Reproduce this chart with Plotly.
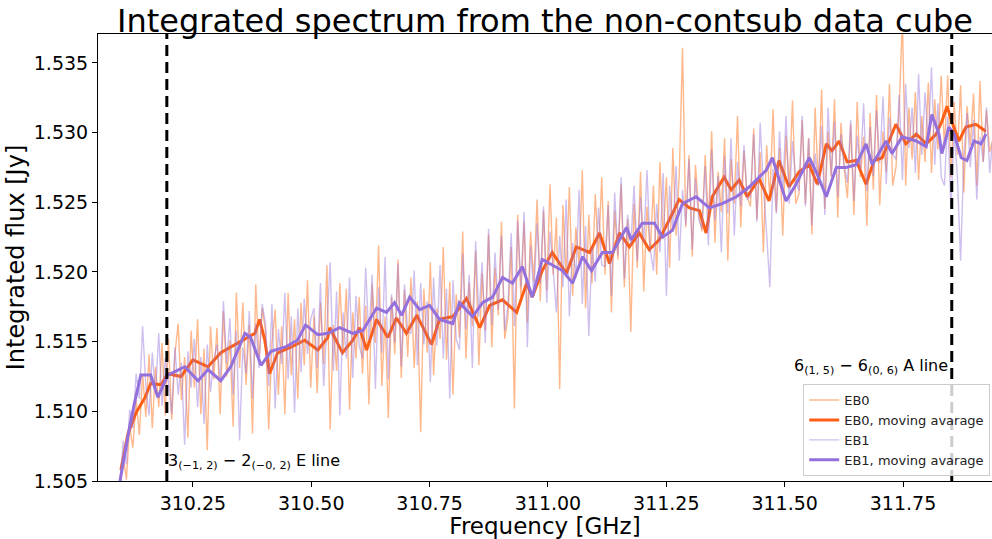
import numpy as np
import plotly.graph_objects as go

# ---------------- data ----------------
f_start, f_end = 310.096, 311.94

eb0_raw = [
    1.5042, 1.5068, 1.5051, 1.5089, 1.5074, 1.5108, 1.5083, 1.5127, 1.5096, 1.5141, 1.5088, 1.5132, 1.5103, 1.5149, 1.5097,
    1.5152, 1.5094, 1.5141, 1.5163, 1.5108, 1.5139, 1.5081, 1.5158, 1.5117, 1.5166, 1.5098, 1.5145, 1.5072, 1.5161, 1.5123,
    1.5160, 1.5098, 1.5172, 1.5125, 1.5151, 1.5089, 1.5185, 1.5131, 1.5178, 1.5119, 1.5162, 1.5084, 1.5191, 1.5136, 1.5174,
    1.5158, 1.5087, 1.5149, 1.5173, 1.5112, 1.5161, 1.5098, 1.5185, 1.5126, 1.5166, 1.5109, 1.5178, 1.5133, 1.5194, 1.5117,
    1.5168, 1.5113, 1.5178, 1.5134, 1.5205, 1.5087, 1.5162, 1.5129, 1.5192, 1.5143, 1.5188, 1.5101, 1.5171, 1.5138, 1.5182,
    1.5127, 1.5176, 1.5105, 1.5191, 1.5149, 1.5219, 1.5118, 1.5168, 1.5095, 1.5182, 1.5141, 1.5209, 1.5124, 1.5187, 1.5139,
    1.5196, 1.5131, 1.5179, 1.5085, 1.5188, 1.5142, 1.5207, 1.5126, 1.5174, 1.5152, 1.5218, 1.5137, 1.5193, 1.5112, 1.5184,
    1.5153, 1.5229, 1.5138, 1.5192, 1.5161, 1.5215, 1.5133, 1.5199, 1.5158, 1.5227, 1.5146, 1.5203, 1.5169, 1.5236, 1.5152,
    1.5168, 1.5218, 1.5102, 1.5241, 1.5182, 1.5236, 1.5164, 1.5229, 1.5193, 1.5252, 1.5179, 1.5244, 1.5187, 1.5263, 1.5198,
    1.5239, 1.5116, 1.5248, 1.5196, 1.5261, 1.5183, 1.5232, 1.5205, 1.5273, 1.5174, 1.5241, 1.5192, 1.5256, 1.5211, 1.5268,
    1.5198, 1.5251, 1.5171, 1.5244, 1.5209, 1.5263, 1.5189, 1.5238, 1.5157, 1.5249, 1.5203, 1.5272, 1.5186, 1.5247, 1.5214,
    1.5262, 1.5198, 1.5279, 1.5224, 1.5268, 1.5203, 1.5289, 1.5226, 1.5271, 1.5361, 1.5232, 1.5284, 1.5211, 1.5277, 1.5243,
    1.5229, 1.5284, 1.5236, 1.5301, 1.5221, 1.5272, 1.5243, 1.5296, 1.5208, 1.5281, 1.5249, 1.5312, 1.5232, 1.5287, 1.5254,
    1.5247, 1.5303, 1.5238, 1.5286, 1.5214, 1.5291, 1.5252, 1.5317, 1.5243, 1.5289, 1.5226, 1.5298, 1.5261, 1.5323, 1.5249,
    1.5256, 1.5309, 1.5249, 1.5296, 1.5227, 1.5318, 1.5262, 1.5331, 1.5245, 1.5301, 1.5268, 1.5324, 1.5239, 1.5307, 1.5274,
    1.5253, 1.5306, 1.5241, 1.5322, 1.5268, 1.5297, 1.5233, 1.5314, 1.5259, 1.5327, 1.5248, 1.5301, 1.5272, 1.5335, 1.5262,
    1.5275, 1.5318, 1.5382, 1.5262, 1.5318, 1.5281, 1.5329, 1.5266, 1.5312, 1.5279, 1.5336, 1.5271, 1.5324, 1.5288, 1.5341,
    1.5289, 1.5341, 1.5268, 1.5322, 1.5284, 1.5334, 1.5257, 1.5319, 1.5291, 1.5328, 1.5262, 1.5337, 1.5279, 1.5316, 1.5286,
    1.5295,
]

eb1_raw = [
    1.5048, 1.5079, 1.5062, 1.5101, 1.5088, 1.5127, 1.5109, 1.5161, 1.5118, 1.5097, 1.5142, 1.5113, 1.5156, 1.5104, 1.5138,
    1.5121, 1.5098, 1.5146, 1.5112, 1.5135, 1.5076, 1.5143, 1.5117, 1.5152, 1.5103, 1.5139, 1.5091, 1.5148, 1.5114, 1.5137,
    1.5148, 1.5121, 1.5179, 1.5134, 1.5167, 1.5112, 1.5158, 1.5079, 1.5146, 1.5127, 1.5172, 1.5109, 1.5163, 1.5131, 1.5177,
    1.5163, 1.5118, 1.5177, 1.5102, 1.5159, 1.5134, 1.5185, 1.5123, 1.5168, 1.5099, 1.5174, 1.5128, 1.5181, 1.5141, 1.5166,
    1.5174, 1.5131, 1.5192, 1.5118, 1.5161, 1.5207, 1.5129, 1.5186, 1.5097, 1.5171, 1.5138, 1.5196, 1.5124, 1.5183, 1.5147,
    1.5138, 1.5203, 1.5151, 1.5198, 1.5116, 1.5189, 1.5142, 1.5211, 1.5123, 1.5184, 1.5149, 1.5206, 1.5132, 1.5191, 1.5157,
    1.5156, 1.5201, 1.5133, 1.5192, 1.5148, 1.5179, 1.5121, 1.5196, 1.5147, 1.5205, 1.5138, 1.5188, 1.5109, 1.5194, 1.5152,
    1.5144, 1.5213, 1.5159, 1.5198, 1.5131, 1.5222, 1.5168, 1.5207, 1.5149, 1.5231, 1.5162, 1.5214, 1.5173, 1.5226, 1.5158,
    1.5176, 1.5228, 1.5161, 1.5237, 1.5189, 1.5243, 1.5146, 1.5219, 1.5183, 1.5235, 1.5192, 1.5247, 1.5178, 1.5229, 1.5201,
    1.5171, 1.5226, 1.5189, 1.5252, 1.5168, 1.5221, 1.5196, 1.5259, 1.5177, 1.5233, 1.5154, 1.5218, 1.5193, 1.5246, 1.5205,
    1.5204, 1.5248, 1.5183, 1.5257, 1.5212, 1.5268, 1.5195, 1.5241, 1.5219, 1.5262, 1.5208, 1.5254, 1.5221, 1.5273, 1.5216,
    1.5201, 1.5249, 1.5214, 1.5271, 1.5183, 1.5262, 1.5229, 1.5276, 1.5208, 1.5259, 1.5234, 1.5281, 1.5216, 1.5267, 1.5238,
    1.5231, 1.5276, 1.5219, 1.5288, 1.5237, 1.5269, 1.5214, 1.5283, 1.5242, 1.5296, 1.5226, 1.5279, 1.5247, 1.5291, 1.5252,
    1.5254, 1.5299, 1.5236, 1.5307, 1.5261, 1.5228, 1.5189, 1.5274, 1.5242, 1.5301, 1.5258, 1.5312, 1.5249, 1.5294, 1.5266,
    1.5258, 1.5312, 1.5247, 1.5296, 1.5233, 1.5285, 1.5262, 1.5305, 1.5241, 1.5318, 1.5269, 1.5308, 1.5254, 1.5299, 1.5276,
    1.5264, 1.5309, 1.5251, 1.5298, 1.5273, 1.5321, 1.5258, 1.5304, 1.5269, 1.5316, 1.5278, 1.5326, 1.5263, 1.5311, 1.5284,
    1.5281, 1.5327, 1.5266, 1.5335, 1.5289, 1.5318, 1.5271, 1.5342, 1.5284, 1.5329, 1.5293, 1.5347, 1.5277, 1.5321, 1.5268,
    1.5262, 1.5311, 1.5246, 1.5301, 1.5269, 1.5208, 1.5283, 1.5314, 1.5275, 1.5309, 1.5252, 1.5297, 1.5279, 1.5318, 1.5271,
    1.5298,
]

eb0_ma_freq = [
    310.098, 310.113, 310.130, 310.149, 310.161, 310.183, 310.197, 310.225, 310.250, 310.282,
    310.309, 310.345, 310.381, 310.391, 310.402, 310.412, 310.429, 310.457, 310.486, 310.514,
    310.535, 310.539, 310.566, 310.588, 310.602, 310.617, 310.638, 310.662, 310.680, 310.701,
    310.723, 310.754, 310.771, 310.799, 310.828, 310.856, 310.877, 310.904, 310.934, 310.955,
    310.967, 310.988, 311.009, 311.039, 311.060, 311.088, 311.109, 311.130, 311.151, 311.172,
    311.193, 311.214, 311.235, 311.263, 311.277, 311.299, 311.320, 311.334, 311.347, 311.372,
    311.387, 311.404, 311.421, 311.446, 311.467, 311.488, 311.509, 311.531, 311.552, 311.569,
    311.588, 311.600, 311.615, 311.632, 311.651, 311.672, 311.689, 311.706, 311.735, 311.756,
    311.778, 311.799, 311.820, 311.832, 311.843, 311.853, 311.868, 311.883, 311.904, 311.925,
]
eb0_ma = [
    1.5058, 1.5084, 1.5099, 1.5110, 1.5120, 1.5119, 1.5127, 1.5125, 1.5137, 1.5132,
    1.5142, 1.5149, 1.5156, 1.5166, 1.5151, 1.5127, 1.5142, 1.5146, 1.5151, 1.5144,
    1.5153, 1.5160, 1.5142, 1.5151, 1.5160, 1.5144, 1.5166, 1.5153, 1.5167, 1.5156,
    1.5169, 1.5148, 1.5166, 1.5168, 1.5181, 1.5160, 1.5176, 1.5180, 1.5171, 1.5192,
    1.5182, 1.5201, 1.5214, 1.5199, 1.5218, 1.5214, 1.5228, 1.5206, 1.5228, 1.5218,
    1.5228, 1.5216, 1.5223, 1.5242, 1.5252, 1.5246, 1.5244, 1.5228, 1.5254, 1.5268,
    1.5259, 1.5266, 1.5254, 1.5267, 1.5251, 1.5280, 1.5261, 1.5272, 1.5277, 1.5263,
    1.5292, 1.5287, 1.5294, 1.5279, 1.5280, 1.5263, 1.5280, 1.5282, 1.5306, 1.5292,
    1.5299, 1.5292, 1.5299, 1.5308, 1.5319, 1.5308, 1.5294, 1.5304, 1.5306, 1.5301,
]

eb1_ma_freq = [
    310.096, 310.107, 310.117, 310.128, 310.140, 310.161, 310.176, 310.197, 310.233, 310.261,
    310.282, 310.309, 310.330, 310.360, 310.372, 310.394, 310.415, 310.444, 310.471, 310.488,
    310.514, 310.535, 310.560, 310.588, 310.609, 310.638, 310.659, 310.676, 310.691, 310.708,
    310.729, 310.750, 310.771, 310.799, 310.813, 310.841, 310.862, 310.883, 310.904, 310.925,
    310.946, 310.967, 310.988, 311.009, 311.031, 311.052, 311.073, 311.092, 311.115, 311.136,
    311.166, 311.176, 311.199, 311.225, 311.242, 311.263, 311.284, 311.313, 311.341, 311.368,
    311.398, 311.425, 311.461, 311.474, 311.503, 311.524, 311.552, 311.569, 311.588, 311.609,
    311.630, 311.651, 311.672, 311.685, 311.714, 311.727, 311.748, 311.778, 311.799, 311.811,
    311.826, 311.832, 311.847, 311.858, 311.873, 311.885, 311.900, 311.915, 311.925,
]
eb1_ma = [
    1.5050, 1.5072, 1.5090, 1.5108, 1.5126, 1.5126, 1.5110, 1.5126, 1.5132, 1.5122,
    1.5130, 1.5122, 1.5132, 1.5156, 1.5153, 1.5133, 1.5143, 1.5146, 1.5151, 1.5162,
    1.5155, 1.5156, 1.5160, 1.5156, 1.5158, 1.5174, 1.5171, 1.5178, 1.5169, 1.5182,
    1.5173, 1.5176, 1.5166, 1.5163, 1.5178, 1.5168, 1.5178, 1.5182, 1.5196, 1.5192,
    1.5204, 1.5182, 1.5209, 1.5205, 1.5201, 1.5192, 1.5211, 1.5201, 1.5214, 1.5214,
    1.5232, 1.5223, 1.5235, 1.5235, 1.5225, 1.5230, 1.5249, 1.5254, 1.5246, 1.5249,
    1.5254, 1.5261, 1.5273, 1.5282, 1.5251, 1.5263, 1.5282, 1.5270, 1.5254, 1.5275,
    1.5275, 1.5277, 1.5292, 1.5277, 1.5294, 1.5285, 1.5297, 1.5294, 1.5290, 1.5313,
    1.5299, 1.5285, 1.5304, 1.5299, 1.5282, 1.5280, 1.5294, 1.5292, 1.5299,
]

line_freqs = [310.195, 311.853]
x_ticks = [310.25, 310.50, 310.75, 311.00, 311.25, 311.50, 311.75]
y_ticks = [1.505, 1.510, 1.515, 1.520, 1.525, 1.530, 1.535]

freq_raw = np.linspace(f_start, f_end, len(eb0_raw))

# ---------------- figure ----------------
FONT = "DejaVu Sans"
fig = go.Figure()

fig.add_trace(go.Scatter(x=freq_raw, y=eb0_raw, mode="lines", name="EB0",
                         line=dict(color="rgba(255,140,70,0.62)", width=1.4)))
fig.add_trace(go.Scatter(x=eb0_ma_freq, y=eb0_ma, mode="lines", name="EB0, moving avarage",
                         line=dict(color="#FF5E14", width=3)))
fig.add_trace(go.Scatter(x=freq_raw, y=eb1_raw, mode="lines", name="EB1",
                         line=dict(color="rgba(147,112,219,0.45)", width=1.4)))
fig.add_trace(go.Scatter(x=eb1_ma_freq, y=eb1_ma, mode="lines", name="EB1, moving avarage",
                         line=dict(color="#9370DB", width=3)))

for lf in line_freqs:
    fig.add_shape(type="line", x0=lf, x1=lf, y0=0, y1=1, xref="x", yref="paper",
                  line=dict(color="black", width=3, dash="11px,6px"))

fig.add_annotation(x=line_freqs[0], y=1.5064, xref="x", yref="y",
                   text="3<sub>(−1, 2)</sub> − 2<sub>(−0, 2)</sub> E line",
                   showarrow=False, xanchor="left", yanchor="middle", xshift=-1,
                   font=dict(family=FONT, size=16, color="black"))
fig.add_annotation(x=311.843, y=1.5132, xref="x", yref="y",
                   text="6<sub>(1, 5)</sub> − 6<sub>(0, 6)</sub> A line",
                   showarrow=False, xanchor="right", yanchor="middle", xshift=3,
                   font=dict(family=FONT, size=16, color="black"))

fig.update_layout(
    width=992, height=539,
    margin=dict(l=98, r=0, t=34, b=58),
    paper_bgcolor="white", plot_bgcolor="white",
    font=dict(family=FONT, color="black"),
    title=dict(text="Integrated spectrum from the non-contsub data cube",
               x=(98 + 992) / 2 / 992, xanchor="center",
               y=1, yanchor="bottom", yref="paper", pad=dict(b=2),
               font=dict(family=FONT, size=32, color="black")),
    showlegend=True,
    legend=dict(x=0.998, xanchor="right", y=0.011, yanchor="bottom",
                bgcolor="rgba(255,255,255,0.8)", bordercolor="#cccccc", borderwidth=1,
                font=dict(family=FONT, size=13, color="#222"),
                itemwidth=30, tracegroupgap=0),
)

fig.update_xaxes(range=[310.0496, 311.938], tickvals=x_ticks,
                 ticktext=[f"{v:.2f}" for v in x_ticks],
                 showgrid=False, zeroline=False, showline=True, linecolor="black",
                 linewidth=1, mirror=True, ticks="outside", ticklen=5, tickwidth=1,
                 tickcolor="black", tickfont=dict(family=FONT, size=19),
                 title=dict(text="Frequency [GHz]", font=dict(family=FONT, size=23), standoff=7))
fig.update_yaxes(range=[1.505, 1.53708], tickvals=y_ticks,
                 ticktext=[f"{v:.3f}" for v in y_ticks],
                 showgrid=False, zeroline=False, showline=True, linecolor="black",
                 linewidth=1, ticks="outside", ticklen=5, tickwidth=1,
                 tickcolor="black", tickfont=dict(family=FONT, size=19),
                 title=dict(text="Integrated flux [Jy]", font=dict(family=FONT, size=24), standoff=2))

fig.write_html("out.html")
